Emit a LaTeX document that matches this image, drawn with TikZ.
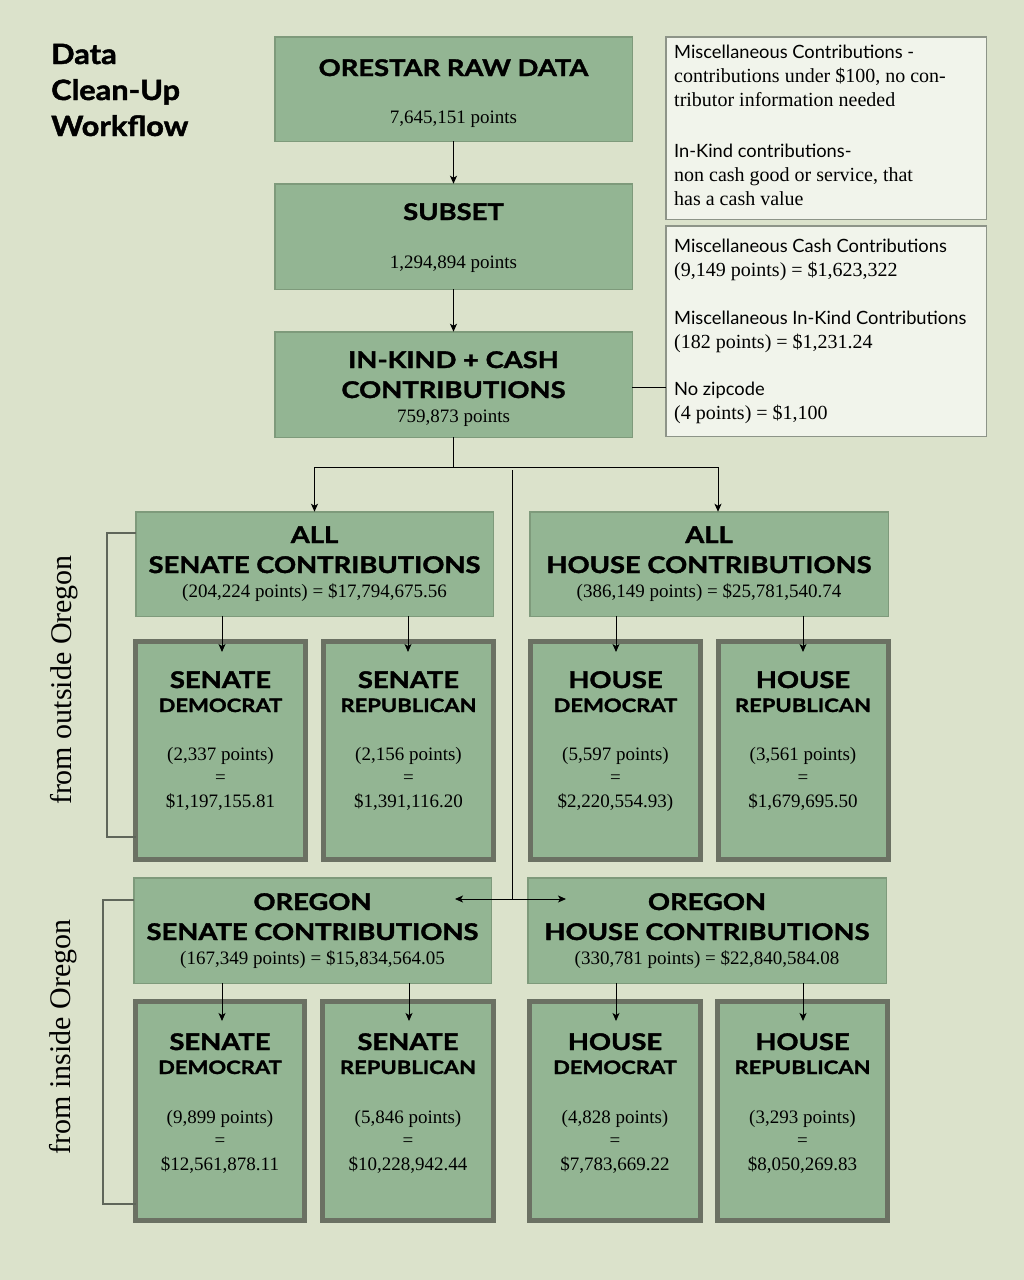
\documentclass[tikz,border=0pt]{standalone}
\usepackage{fontspec}
\setmainfont{Liberation Serif}
\newfontfamily\hf{Lato}
\newfontfamily\hfw{Lato}[FakeStretch=1.19, BoldFeatures={FakeBold=1.6}]
\newfontfamily\hft{Lato}[FakeStretch=1.1, BoldFeatures={FakeBold=1.6}]
\usetikzlibrary{arrows.meta}
\definecolor{bgc}{HTML}{DBE2CB}
\definecolor{gfill}{HTML}{93B593}
\definecolor{gdraw}{HTML}{7E9A7B}
\definecolor{tdraw}{HTML}{6B7163}
\definecolor{nfill}{HTML}{F1F4EB}
\definecolor{ndraw}{HTML}{8D9488}
\definecolor{brk}{HTML}{5F665A}
\tikzset{
  gbox/.style={draw=gdraw, fill=gfill, line width=1.5pt, inner sep=0pt, outer sep=0pt},
  tbox/.style={draw=tdraw, fill=gfill, line width=5pt, inner sep=0pt, outer sep=0pt},
  nbox/.style={draw=ndraw, fill=nfill, line width=1.5pt, inner sep=0pt, outer sep=0pt},
  hd/.style={font=\hfw\bfseries\fontsize{23}{26}\selectfont, anchor=base, inner sep=0pt},
  sh/.style={font=\hfw\bfseries\fontsize{18.5}{22}\selectfont, anchor=base, inner sep=0pt},
  num/.style={font=\fontsize{19}{22}\selectfont, anchor=base, inner sep=0pt},
  nh/.style={font=\hf\fontsize{18.3}{22}\selectfont, anchor=base west, inner sep=0pt},
  nt/.style={font=\fontsize{20}{22}\selectfont, anchor=base west, inner sep=0pt},
  ttl/.style={font=\hft\bfseries\fontsize{28}{32}\selectfont, anchor=base west, inner sep=0pt},
  side/.style={font=\fontsize{30}{34}\selectfont, rotate=90, inner sep=0pt},
  arr/.style={draw=black, line width=1pt, -{Stealth[length=8pt,width=7pt,inset=2pt]}},
  conn/.style={draw=black, line width=1pt},
  brkline/.style={draw=brk, line width=1.5pt},
}
\begin{document}
\begin{tikzpicture}[x=1pt,y=-1pt]
\useasboundingbox (0,0) rectangle (1024,1280);
\fill[bgc] (0,0) rectangle (1024,1280);

% title
\node[ttl] (t1) at (51,64) {Data};
\node[ttl] (t2) at (51,100) {Clean-Up};
\node[ttl] (t3) at (51,136) {Workflow};

% top boxes
\node[gbox, minimum width=357.5pt, minimum height=104.5pt] (raw) at (453.5,89) {};
\node[hd] (rawT) at (453.5,76) {ORESTAR RAW DATA};
\node[num] (rawN) at (453.5,123) {7,645,151 points};

\node[gbox, minimum width=357.5pt, minimum height=105.5pt] (subset) at (453.5,236.5) {};
\node[hd] (subT) at (453.5,220) {SUBSET};
\node[num] (subN) at (453.5,268) {1,294,894 points};

\node[gbox, minimum width=357.5pt, minimum height=105.5pt] (inkind) at (453.5,384.5) {};
\node[hd] (inkT1) at (453.5,368) {IN-KIND + CASH};
\node[hd] (inkT2) at (453.5,398) {CONTRIBUTIONS};
\node[num] (inkN) at (453.5,422) {759,873 points};

% notes
\node[nbox, minimum width=320.5pt, minimum height=182.5pt] (note1) at (826,128) {};
\node[nh] (n1a) at (674,58) {Miscellaneous Contributions -};
\node[nt] (n1b) at (674,82) {contributions under \$100, no con-};
\node[nt] (n1c) at (674,106) {tributor information needed};
\node[nh] (n1d) at (674,157) {In-Kind contributions-};
\node[nt] (n1e) at (674,181) {non cash good or service, that};
\node[nt] (n1f) at (674,205) {has a cash value};

\node[nbox, minimum width=320.5pt, minimum height=210.5pt] (note2) at (826,331) {};
\node[nh] (n2a) at (674,252) {Miscellaneous Cash Contributions};
\node[nt] (n2b) at (674,276) {(9,149 points) = \$1,623,322};
\node[nh] (n2c) at (674,324) {Miscellaneous In-Kind Contributions};
\node[nt] (n2d) at (674,348) {(182 points) = \$1,231.24};
\node[nh] (n2e) at (674,395) {No zipcode};
\node[nt] (n2f) at (674,419) {(4 points) = \$1,100};

% all senate / house
\node[gbox, minimum width=357.5pt, minimum height=104.5pt] (allsen) at (314.5,564) {};
\node[hd] (asT1) at (314.5,543) {ALL};
\node[hd] (asT2) at (314.5,573) {SENATE CONTRIBUTIONS};
\node[num] (asN) at (314.5,597) {(204,224 points) = \$17,794,675.56};

\node[gbox, minimum width=358.5pt, minimum height=104.5pt] (allhouse) at (709,564) {};
\node[hd] (ahT1) at (709,543) {ALL};
\node[hd] (ahT2) at (709,573) {HOUSE CONTRIBUTIONS};
\node[num] (ahN) at (709,597) {(386,149 points) = \$25,781,540.74};

% row 1 party boxes
\node[tbox, minimum width=170pt, minimum height=218pt] (sd1) at (220.5,750.5) {};
\node[hd] (sd1a) at (220.5,688) {SENATE};
\node[sh] (sd1b) at (220.5,712) {DEMOCRAT};
\node[num] (sd1c) at (220.5,760) {(2,337 points)};
\node[num] (sd1d) at (220.5,783) {=};
\node[num] (sd1e) at (220.5,807) {\$1,197,155.81};

\node[tbox, minimum width=170pt, minimum height=218pt] (sr1) at (408.5,750.5) {};
\node[hd] (sr1a) at (408.5,688) {SENATE};
\node[sh] (sr1b) at (408.5,712) {REPUBLICAN};
\node[num] (sr1c) at (408.5,760) {(2,156 points)};
\node[num] (sr1d) at (408.5,783) {=};
\node[num] (sr1e) at (408.5,807) {\$1,391,116.20};

\node[tbox, minimum width=170pt, minimum height=218pt] (hd1) at (615.5,750.5) {};
\node[hd] (hd1a) at (615.5,688) {HOUSE};
\node[sh] (hd1b) at (615.5,712) {DEMOCRAT};
\node[num] (hd1c) at (615.5,760) {(5,597 points)};
\node[num] (hd1d) at (615.5,783) {=};
\node[num] (hd1e) at (615.5,807) {\$2,220,554.93)};

\node[tbox, minimum width=170pt, minimum height=218pt] (hr1) at (803,750.5) {};
\node[hd] (hr1a) at (803,688) {HOUSE};
\node[sh] (hr1b) at (803,712) {REPUBLICAN};
\node[num] (hr1c) at (803,760) {(3,561 points)};
\node[num] (hr1d) at (803,783) {=};
\node[num] (hr1e) at (803,807) {\$1,679,695.50};

% oregon boxes
\node[gbox, minimum width=357.5pt, minimum height=105.5pt] (oresen) at (312.5,930.5) {};
\node[hd] (osT1) at (312.5,910) {OREGON};
\node[hd] (osT2) at (312.5,940) {SENATE CONTRIBUTIONS};
\node[num] (osN) at (312.5,964) {(167,349 points) = \$15,834,564.05};

\node[gbox, minimum width=358.5pt, minimum height=105.5pt] (orehouse) at (707,930.5) {};
\node[hd] (ohT1) at (707,910) {OREGON};
\node[hd] (ohT2) at (707,940) {HOUSE CONTRIBUTIONS};
\node[num] (ohN) at (707,964) {(330,781 points) = \$22,840,584.08};

% row 2 party boxes
\node[tbox, minimum width=169pt, minimum height=219pt] (sd2) at (220,1111) {};
\node[hd] (sd2a) at (220,1050) {SENATE};
\node[sh] (sd2b) at (220,1074) {DEMOCRAT};
\node[num] (sd2c) at (220,1123) {(9,899 points)};
\node[num] (sd2d) at (220,1146) {=};
\node[num] (sd2e) at (220,1170) {\$12,561,878.11};

\node[tbox, minimum width=171pt, minimum height=219pt] (sr2) at (408,1111) {};
\node[hd] (sr2a) at (408,1050) {SENATE};
\node[sh] (sr2b) at (408,1074) {REPUBLICAN};
\node[num] (sr2c) at (408,1123) {(5,846 points)};
\node[num] (sr2d) at (408,1146) {=};
\node[num] (sr2e) at (408,1170) {\$10,228,942.44};

\node[tbox, minimum width=171pt, minimum height=219pt] (hd2) at (615,1111) {};
\node[hd] (hd2a) at (615,1050) {HOUSE};
\node[sh] (hd2b) at (615,1074) {DEMOCRAT};
\node[num] (hd2c) at (615,1123) {(4,828 points)};
\node[num] (hd2d) at (615,1146) {=};
\node[num] (hd2e) at (615,1170) {\$7,783,669.22};

\node[tbox, minimum width=170pt, minimum height=219pt] (hr2) at (802.5,1111) {};
\node[hd] (hr2a) at (802.5,1050) {HOUSE};
\node[sh] (hr2b) at (802.5,1074) {REPUBLICAN};
\node[num] (hr2c) at (802.5,1123) {(3,293 points)};
\node[num] (hr2d) at (802.5,1146) {=};
\node[num] (hr2e) at (802.5,1170) {\$8,050,269.83};

% side labels
\node[side] (outside) at (64,680) {from outside Oregon};
\node[side] (inside) at (63,1037) {from inside Oregon};

% connectors
\draw[arr] (raw.south) -- (subset.north);
\draw[arr] (subset.south) -- (inkind.north);
\draw[conn] ([yshift=-3pt]inkind.east) -- ([yshift=-3pt]inkind.east -| note2.west);

\coordinate (bus) at (453.5,467);
\coordinate (busR) at (718,467);
\draw[conn] (inkind.south) -- (bus);
\draw[arr] (bus) -| (allsen.north);
\draw[arr] (bus) -- (busR) -- (busR |- allhouse.north);

\coordinate (ctop) at (512,470);
\coordinate (cbot) at (512,899);
\coordinate (aL) at (455,899);
\coordinate (aR) at (566,899);
\draw[conn] (ctop) -- (cbot);
\draw[arr] (cbot) -- (aL);
\draw[arr] (cbot) -- (aR);

\foreach \b/\p/\x in {allsen/sd1/222, allsen/sr1/408, allhouse/hd1/616, allhouse/hr1/803}{
  \draw[arr] (\x,0 |- \b.south) -- (\x,652);
}
\foreach \b/\p/\x in {oresen/sd2/222, oresen/sr2/409, orehouse/hd2/616, orehouse/hr2/803}{
  \draw[arr] (\x,0 |- \b.south) -- (\x,1021);
}

% brackets
\coordinate (b1a) at (107,533);
\coordinate (b1b) at (107,837);
\draw[brkline] ([yshift=31pt]allsen.west) -- (b1a) -- (b1b) -- (b1b -| sd1.west);
\coordinate (b2a) at (103,900);
\coordinate (b2b) at (103,1204);
\draw[brkline] ([yshift=30.5pt]oresen.west) -- (b2a) -- (b2b) -- (b2b -| sd2.west);
\end{tikzpicture}
\end{document}
